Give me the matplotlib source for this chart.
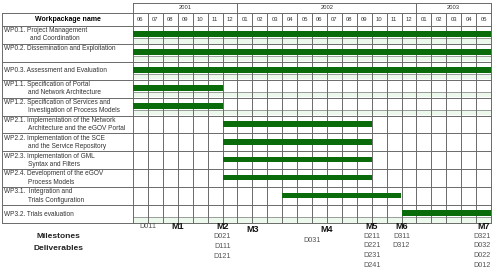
import matplotlib
matplotlib.use("Agg")
import matplotlib.pyplot as plt
from matplotlib.patches import Rectangle

plt.rcParams['font.family'] = ['Liberation Sans', 'DejaVu Sans']

# ---- data ----
years = ["2001", "2002", "2003"]
year_months = [7, 12, 5]
month_labels = ["06", "07", "08", "09", "10", "11", "12",
                "01", "02", "03", "04", "05", "06", "07", "08", "09", "10", "11", "12",
                "01", "02", "03", "04", "05"]
wp_labels = [
    ("WP0.1. Project Management", "and Coordination"),
    ("WP0.2. Dissemination and Exploitation", ""),
    ("WP0.3. Assessment and Evaluation", None),
    ("WP1.1. Specification of Portal", "and Network Architecture"),
    ("WP1.2. Specification of Services and", "Investigation of Process Models"),
    ("WP2.1. Implementation of the Network", "Architecture and the eGOV Portal"),
    ("WP2.2. Implementation of the SCE", "and the Service Repository"),
    ("WP2.3. Implementation of GML", "Syntax and Filters"),
    ("WP2.4. Development of the eGOV", "Process Models"),
    ("WP3.1.  Integration and", "Trials Configuration"),
    ("WP3.2. Trials evaluation", None),
]
wp_start = [0, 0, 0, 0, 0, 6, 6, 6, 6, 10, 18]
wp_duration = [24, 24, 24, 6, 6, 10, 10, 10, 10, 8, 6]
milestones = ["M1", "M2", "M3", "M4", "M5", "M6", "M7"]
milestone_month = [3, 6, 8, 13, 16, 18, 24]
deliverables = [["D011"], ["D021", "D111", "D121"], ["D031"],
                ["D211", "D221", "D231", "D241"], ["D311", "D312"],
                ["D321", "D032", "D022", "D012"]]
deliverable_month = [1, 6, 12, 16, 18, 24]

# ---- layout (pixels) ----
W, H = 500, 272
x0, x1 = 133, 491
cw = (x1 - x0) / 24.0
ytop_rows = 26.0
rh = (223 - 26) / 11.0

fig = plt.figure(figsize=(W / 100, H / 100), dpi=100)
ax = fig.add_axes([0, 0, 1, 1])
ax.set_xlim((0 - x0) / cw, (W - x0) / cw)
ax.set_ylim((H - ytop_rows) / rh, (0 - ytop_rows) / rh)
ax.axis('off')

left = (2 - x0) / cw
nrows = len(wp_labels)
grid_c = '#6a6a6a'
lw = 0.7
hy_top = (3 - ytop_rows) / rh
hy_mid = (12.5 - ytop_rows) / rh
hy_left = (13 - ytop_rows) / rh
bar_c = '#0a6b0a'
light_c = '#edf8ed'
banded = [0, 1, 2, 3, 4, 10]

# light bands under bars
for i in banded:
    ax.add_patch(Rectangle((0, i + 0.68), 24, 0.3, facecolor=light_c, edgecolor='none', zorder=1))
    ax.plot([0, 24], [i + 0.68, i + 0.68], color=grid_c, lw=0.45, zorder=2)

# grid: vertical month lines
for m in range(25):
    top = hy_top if m in (0, 7, 19, 24) else hy_mid
    ax.plot([m, m], [top, nrows], color=grid_c, lw=lw, zorder=2)
# horizontal row lines
for i in range(nrows + 1):
    ax.plot([left, 24], [i, i], color=grid_c, lw=lw, zorder=2)
ax.plot([0, 24], [hy_top, hy_top], color=grid_c, lw=lw, zorder=2)
ax.plot([0, 24], [hy_mid, hy_mid], color=grid_c, lw=lw, zorder=2)
ax.plot([left, 0], [hy_left, hy_left], color=grid_c, lw=lw, zorder=2)
ax.plot([left, left], [hy_left, nrows], color=grid_c, lw=lw, zorder=2)

# header text
pos = 0
for y, n in zip(years, year_months):
    ax.text(pos + n / 2, (hy_top + hy_mid) / 2, y, ha='center', va='center', fontsize=4.2, color='#333333')
    pos += n
for m, lab in enumerate(month_labels):
    ax.text(m + 0.5, (hy_mid + 0) / 2, lab, ha='center', va='center', fontsize=4.2, color='#333333')
ax.text(left / 2, (hy_left + 0) / 2, "Workpackage name", ha='center', va='center',
        fontsize=5, fontweight='bold')

# row labels
tx = (4 - x0) / cw
tx2 = (28 - x0) / cw
for i, (l1, l2) in enumerate(wp_labels):
    if l2 is None:
        ax.text(tx, i + 0.5, l1, ha='left', va='center', fontsize=4.7, color='#333333')
    else:
        ax.text(tx, i + 0.26, l1, ha='left', va='center', fontsize=4.7, color='#333333')
        if l2:
            ax.text(tx2 if i else (30 - x0) / cw, i + 0.72, l2, ha='left', va='center',
                    fontsize=4.7, color='#333333')

# bars
ax.barh([i + 0.46 for i in range(nrows)], wp_duration, left=wp_start, height=0.32,
        color=bar_c, edgecolor='none', zorder=3)

# milestones
my = (226 - ytop_rows) / rh
for name, m in zip(milestones, milestone_month):
    ha = 'right' if m == 24 else 'center'
    xm = m - 0.05 if m == 24 else m
    yy = my + (0.2 if name in ("M3", "M4") else 0)
    ax.text(xm, yy, name, ha=ha, va='center', fontsize=6.5, fontweight='bold', color='#111111')

dy = (9.8) / rh
for lst, m in zip(deliverables, deliverable_month):
    ha = 'right' if m == 24 else 'center'
    xm = m - 0.05 if m == 24 else m
    if m == 1:
        base = my
    elif m == 6:
        base = (236.5 - ytop_rows) / rh
    elif m == 12:
        base = (240 - ytop_rows) / rh
    else:
        base = (236 - ytop_rows) / rh
    for k, d in enumerate(lst):
        ax.text(xm, base + k * dy, d, ha=ha, va='center', fontsize=5.2, color='#555555')

ax.text((58 - x0) / cw, (236 - ytop_rows) / rh, "Milestones", ha='center', va='center',
        fontsize=6, fontweight='bold', color='#222222')
ax.text((58 - x0) / cw, (248 - ytop_rows) / rh, "Deliverables", ha='center', va='center',
        fontsize=6, fontweight='bold', color='#222222')

fig.savefig("out.png", dpi=100, facecolor='white')
